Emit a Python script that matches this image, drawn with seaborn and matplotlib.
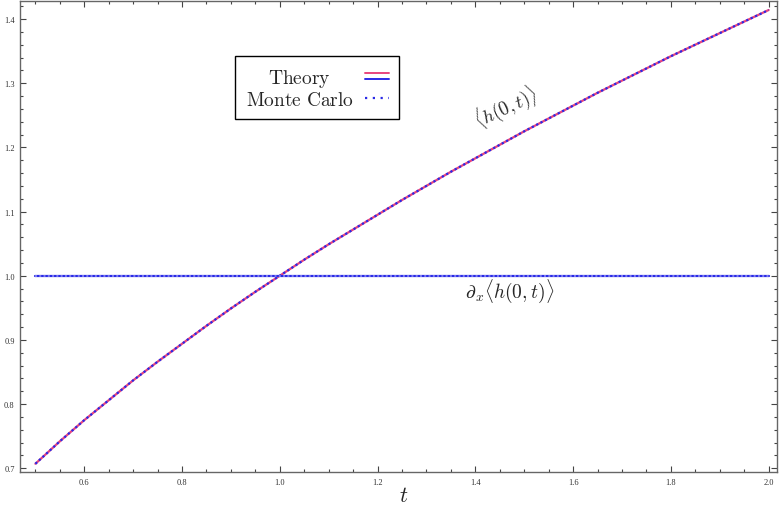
import numpy as np
import pandas as pd
import matplotlib
matplotlib.use("Agg")
import matplotlib.pyplot as plt
from matplotlib.legend_handler import HandlerBase
from matplotlib.lines import Line2D
from matplotlib.ticker import MultipleLocator
import seaborn as sns

# ----------------------------------------------------------
# data
# ----------------------------------------------------------
t_vals = [0.50, 0.55, 0.60, 0.65, 0.70, 0.75, 0.80, 0.85, 0.90, 0.95,
          1.00, 1.05, 1.10, 1.15, 1.20, 1.25, 1.30, 1.35, 1.40, 1.45,
          1.50, 1.55, 1.60, 1.65, 1.70, 1.75, 1.80, 1.85, 1.90, 1.95, 2.00]
h_mean = [0.707, 0.742, 0.775, 0.806, 0.837, 0.866, 0.894, 0.922, 0.949, 0.975,
          1.000, 1.025, 1.049, 1.072, 1.095, 1.118, 1.140, 1.162, 1.183, 1.204,
          1.225, 1.245, 1.265, 1.285, 1.304, 1.323, 1.342, 1.360, 1.378, 1.396,
          1.414]
dh_mean = [1.0] * len(t_vals)

x_ticks = [0.6, 0.8, 1.0, 1.2, 1.4, 1.6, 1.8, 2.0]
y_ticks = [0.7, 0.8, 0.9, 1.0, 1.1, 1.2, 1.3, 1.4]

PINK = "#e8457e"
BLUE = "#2a2ae6"

df = pd.DataFrame({"t": t_vals, "h": h_mean, "dh": dh_mean})

sns.set_style("ticks")
plt.rcParams["mathtext.fontset"] = "cm"
plt.rcParams["font.family"] = ["Liberation Serif", "DejaVu Serif"]

fig = plt.figure(figsize=(7.79, 5.06), dpi=100)
ax = fig.add_axes([0.026, 0.065, 0.972, 0.931])

# theory curves
sns.lineplot(data=df, x="t", y="h", ax=ax, color=PINK, lw=1.6)
sns.lineplot(data=df, x="t", y="dh", ax=ax, color=BLUE, lw=1.6)
# monte carlo (dotted, on top)
sns.lineplot(data=df, x="t", y="h", ax=ax, color=BLUE, lw=1.6,
             linestyle=(0, (1, 1.2)))
sns.lineplot(data=df, x="t", y="dh", ax=ax, color="#8080f0", lw=1.4,
             linestyle=(0, (1, 1.2)))

ax.set_xlim(0.469, 2.018)
ax.set_ylim(0.694, 1.428)
ax.set_xticks(x_ticks)
ax.set_yticks(y_ticks)
ax.set_xticklabels([f"{v:.1f}" for v in x_ticks])
ax.set_yticklabels([f"{v:.1f}" for v in y_ticks])
ax.xaxis.set_minor_locator(MultipleLocator(0.05))
ax.yaxis.set_minor_locator(MultipleLocator(0.02))
ax.tick_params(which="both", direction="in", top=True, right=True,
               colors="#444444", labelsize=6, labelcolor="#333333", width=0.8)
ax.tick_params(which="major", length=4, pad=4)
ax.tick_params(which="minor", length=2.5)
for sp in ax.spines.values():
    sp.set_color("#666666")
    sp.set_linewidth(1.0)

ax.set_xlabel("$t$", fontsize=16)
ax.xaxis.set_label_coords(0.507, -0.032)
ax.set_ylabel("")

# curve labels
ax.text(1.463, 1.264, r"$\langle h(0,t)\rangle$", fontsize=13.5,
        rotation=25, ha="center", va="center")
ax.text(1.47, 0.978, r"$\partial_x\langle h(0,t)\rangle$", fontsize=14,
        ha="center", va="center")


# legend: theory handle is two stacked lines
class StackedHandler(HandlerBase):
    def create_artists(self, legend, orig_handle, xdescent, ydescent,
                       width, height, fontsize, trans):
        arts = []
        for i, col in enumerate(orig_handle):
            y = height / 2 + (0.2 - 0.4 * i) * height
            ln = Line2D([0, width], [y, y], color=col, lw=1.4, transform=trans)
            arts.append(ln)
        return arts


mc_handle = Line2D([], [], color=BLUE, lw=1.6, linestyle=(0, (1, 2.5)))
leg = fig.legend([(PINK, BLUE), mc_handle],
                 [r"$\mathrm{Theory}$", r"$\mathrm{Monte\ Carlo}$"],
                 handler_map={tuple: StackedHandler()},
                 loc="upper left", bbox_to_anchor=(0.3017, 0.8874),
                 borderaxespad=0, markerfirst=False, fontsize=14,
                 handlelength=1.2, handletextpad=0.6, borderpad=0.55,
                 labelspacing=0.1, fancybox=False, framealpha=1,
                 edgecolor="black")
leg.get_frame().set_linewidth(1.0)

# centre the "Theory" label over "Monte Carlo" like the original
fig.canvas.draw()
r = fig.canvas.get_renderer()
b0 = leg.get_texts()[0].get_window_extent(r)
b1 = leg.get_texts()[1].get_window_extent(r)
leg.get_texts()[0].set_visible(False)
cx, cy = fig.transFigure.inverted().transform(((b1.x0 + b1.x1) / 2,
                                              (b0.y0 + b0.y1) / 2))
fig.text(cx, cy, r"$\mathrm{Theory}$", fontsize=14, ha="center", va="center",
         zorder=10)

fig.savefig("out.png", dpi=100)
